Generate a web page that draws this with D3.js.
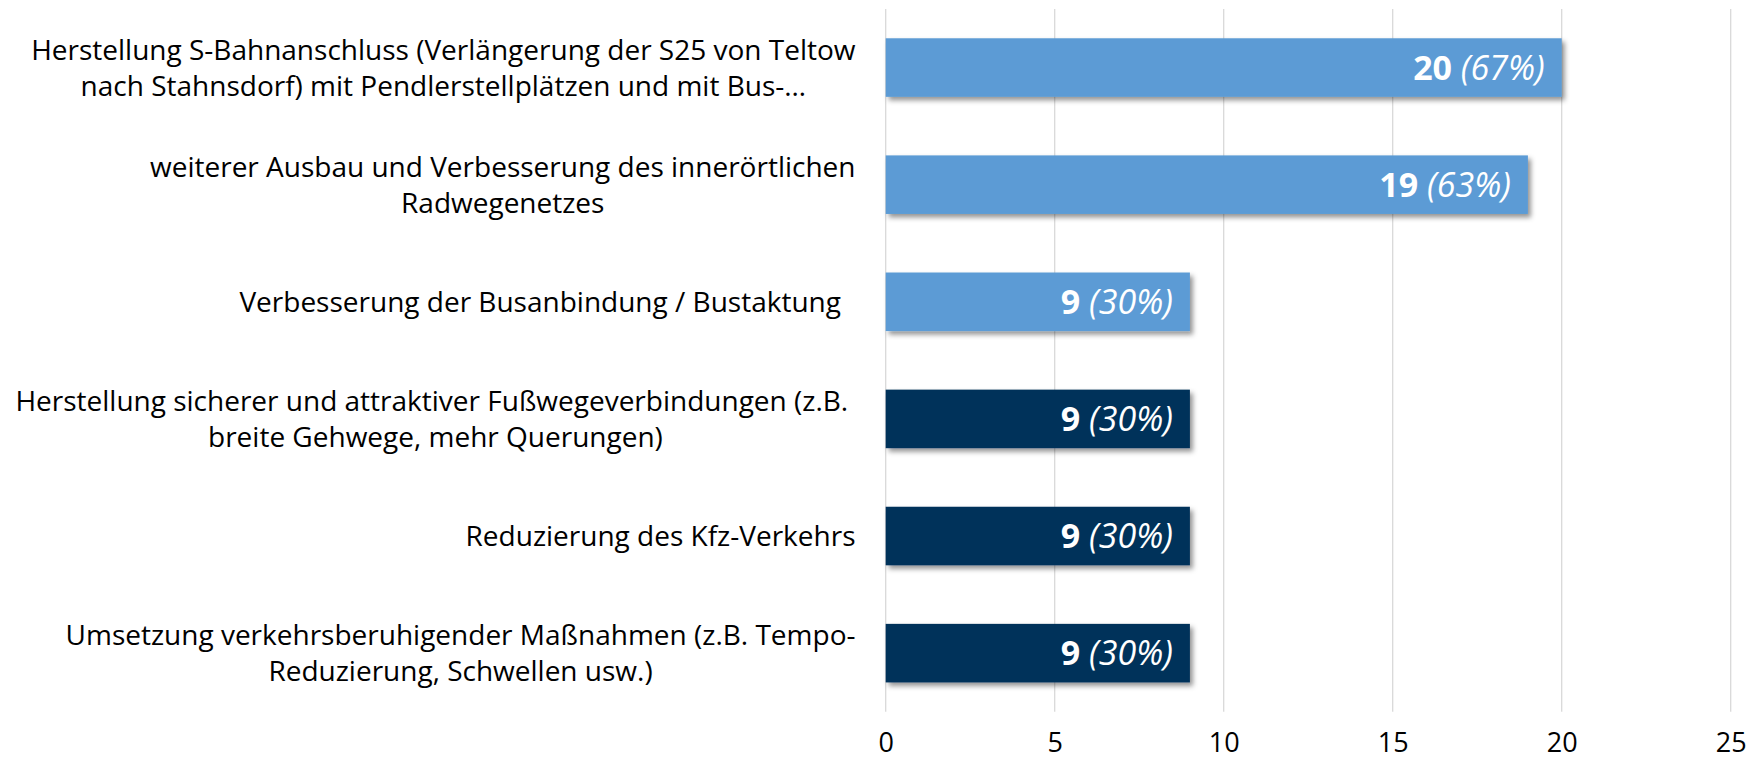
<!DOCTYPE html>
<html>
<head>
<meta charset="utf-8">
<script src="https://cdn.jsdelivr.net/npm/d3@7"></script>
<style>
  html, body { margin: 0; padding: 0; background: #ffffff; }
  svg { display: block; }
  text { font-family: "Open Sans", "Noto Sans", sans-serif; white-space: pre; }
</style>
</head>
<body>
<svg id="chart" width="1749" height="760"></svg>
<script>
// Category labels, one entry per wrapped line
const categories = [
  ["Herstellung S-Bahnanschluss (Verlängerung der S25 von Teltow",
   "nach Stahnsdorf) mit Pendlerstellplätzen und mit Bus-…"],
  ["weiterer Ausbau und Verbesserung des innerörtlichen",
   "Radwegenetzes"],
  ["Verbesserung der Busanbindung / Bustaktung  "],
  ["Herstellung sicherer und attraktiver Fußwegeverbindungen (z.B. ",
   "breite Gehwege, mehr Querungen)"],
  ["Reduzierung des Kfz-Verkehrs"],
  ["Umsetzung verkehrsberuhigender Maßnahmen (z.B. Tempo-",
   "Reduzierung, Schwellen usw.)"]
];
// Number of mentions per measure
const values = [20, 19, 9, 9, 9, 9];
// Share of respondents, as printed next to the count
const shares = ["67%", "63%", "30%", "30%", "30%", "30%"];
// Theme of each measure: public transport / cycling vs. walking / traffic calming
const themes = ["oepnv", "oepnv", "oepnv", "fuss", "fuss", "fuss"];
const xTicks = [0, 5, 10, 15, 20, 25];

const themeColor = { oepnv: "#5B9BD5", fuss: "#00305A" };

const svg = d3.select("#chart");
const plot = { left: 885.7, right: 1730.7, top: 9, bottom: 711.7 };

const x = d3.scaleLinear().domain([0, 25]).range([plot.left, plot.right]);
const y = d3.scaleBand()
  .domain(d3.range(values.length))
  .range([plot.top, plot.bottom])
  .paddingInner(0.5)
  .paddingOuter(0.25);

// Soft drop shadow under the bars
const defs = svg.append("defs");
const f = defs.append("filter").attr("id", "barShadow")
  .attr("x", "-5%").attr("y", "-20%").attr("width", "115%").attr("height", "160%");
f.append("feDropShadow")
  .attr("dx", 3).attr("dy", 3.5).attr("stdDeviation", 2.6)
  .attr("flood-color", "#000").attr("flood-opacity", 0.42);

// Vertical gridlines
const xAxis = d3.axisBottom(x).tickValues(xTicks).tickSize(0).tickPadding(0);
const gridG = svg.append("g");
gridG.selectAll("line").data(xTicks).join("line")
  .attr("x1", d => x(d)).attr("x2", d => x(d))
  .attr("y1", plot.top).attr("y2", plot.bottom)
  .attr("stroke", "#d9d9d9").attr("stroke-width", 1.3);

// Tick labels along the bottom
const axisG = svg.append("g")
  .attr("transform", `translate(0,${plot.bottom})`)
  .call(xAxis);
axisG.select(".domain").remove();
axisG.selectAll("text")
  .attr("y", 0)
  .attr("dy", 0)
  .attr("transform", "translate(0,40.5)")
  .attr("fill", "#000")
  .style("font-size", "27px")
  .style("font-family", "\"Open Sans\", sans-serif");

// Bars
svg.append("g").selectAll("rect").data(values).join("rect")
  .attr("x", x(0))
  .attr("y", (d, i) => y(i))
  .attr("width", d => x(d) - x(0))
  .attr("height", y.bandwidth())
  .attr("fill", (d, i) => themeColor[themes[i]])
  .attr("filter", "url(#barShadow)");

// Value labels inside the bar ends: bold count, italic share
const valFs = 34;
const valG = svg.append("g").selectAll("text").data(values).join("text")
  .attr("x", d => x(d) - 17)
  .attr("y", (d, i) => y(i) + y.bandwidth() / 2 + valFs * 0.714 / 2)
  .attr("text-anchor", "end")
  .attr("fill", "#fff")
  .style("font-size", valFs + "px");
valG.append("tspan").attr("font-weight", "bold").text(d => d);
valG.append("tspan").attr("font-style", "italic").text((d, i) => " (" + shares[i] + ")");

// Category labels: block right-aligned, lines centred within the block
const catFs = 28;
const lineH = 36;
const labelRight = 855.5;
const catG = svg.append("g");
categories.forEach((lines, i) => {
  const cy = y(i) + y.bandwidth() / 2;
  const nodes = lines.map((ln, j) => catG.append("text")
    .attr("text-anchor", "middle")
    .attr("fill", "#000")
    .style("font-size", catFs + "px")
    .attr("y", cy + catFs * 0.714 / 2 + (j - (lines.length - 1) / 2) * lineH)
    .text(ln));
  const w = d3.max(nodes, n => n.node().getComputedTextLength());
  nodes.forEach(n => n.attr("x", labelRight - w / 2));
});
</script>
</body>
</html>
